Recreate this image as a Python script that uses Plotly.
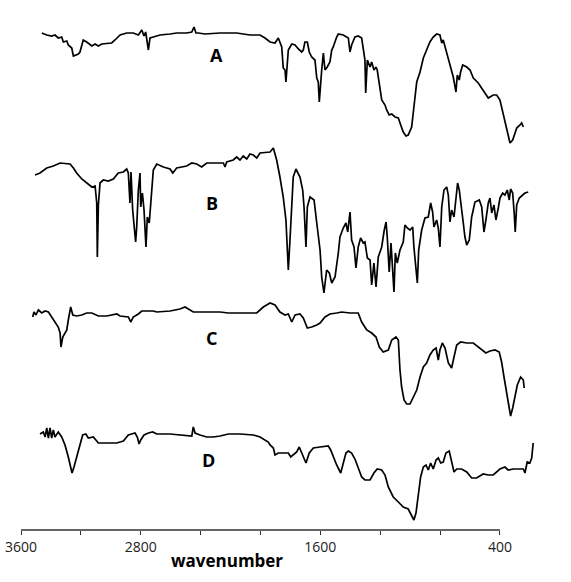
import plotly.graph_objects as go

# Wavenumbers (cm-1) and stacked relative transmittance (arbitrary units, offset per spectrum)
A_wn = [3461, 3428, 3395, 3373, 3351, 3328, 3317, 3294, 3284, 3261, 3250, 3217, 3206, 3184, 3161, 3127, 3105, 3083, 3061, 2994,
        2972, 2938, 2894, 2850, 2816, 2793, 2778, 2767, 2749, 2738, 2716, 2671, 2604, 2560, 2493, 2459, 2444, 2431, 2415, 2371,
        2270, 2159, 2115, 2070, 2003, 1970, 1936, 1903, 1881, 1858, 1848, 1836, 1830, 1814, 1791, 1769, 1747, 1725, 1714, 1703,
        1687, 1674, 1658, 1636, 1624, 1614, 1607, 1598, 1591, 1580, 1569, 1554, 1536, 1524, 1514, 1491, 1480, 1447, 1413, 1402,
        1391, 1369, 1347, 1324, 1313, 1302, 1297, 1286, 1268, 1257, 1242, 1228, 1220, 1206, 1190, 1168, 1157, 1140, 1123, 1101,
        1079, 1063, 1046, 1028, 1013, 990, 975, 956, 934, 912, 890, 868, 846, 823, 801, 789, 779, 756, 734, 712,
        694, 685, 672, 663, 649, 622, 600, 578, 545, 512, 478, 445, 422, 400, 378, 355, 333, 315, 288, 266, 255, 244]
A_y = [497, 495, 494, 495, 492, 493, 488, 489, 485, 482, 474, 476, 478, 490, 488, 484, 486, 484, 486, 487,
       490, 495, 497, 497, 495, 500, 494, 498, 480, 492, 493, 495, 496, 497, 497, 498, 503, 497, 497, 496,
       497, 497, 496, 495, 495, 492, 488, 487, 492, 483, 462, 460, 448, 480, 486, 485, 481, 478, 480, 488,
       488, 478, 473, 470, 452, 448, 428, 450, 460, 477, 460, 463, 468, 480, 483, 493, 496, 495, 492, 478,
       485, 493, 494, 492, 483, 470, 437, 470, 463, 468, 460, 463, 460, 447, 430, 425, 420, 415, 416, 413,
       412, 405, 398, 394, 395, 403, 423, 448, 458, 472, 480, 488, 493, 496, 495, 487, 490, 478, 467, 453,
       438, 455, 450, 458, 465, 463, 460, 452, 447, 440, 432, 435, 435, 430, 415, 402, 387, 390, 402, 405, 407, 403]

B_wn = [3506, 3473, 3428, 3384, 3339, 3272, 3250, 3228, 3194, 3161, 3127, 3105, 3094, 3090, 3083, 3072, 3050, 3017, 2983, 2950,
        2916, 2894, 2883, 2872, 2865, 2854, 2845, 2834, 2827, 2816, 2805, 2800, 2789, 2778, 2765, 2756, 2743, 2731, 2716, 2693,
        2649, 2604, 2586, 2560, 2493, 2459, 2426, 2393, 2359, 2315, 2248, 2237, 2226, 2182, 2159, 2137, 2115, 2092, 2070, 2048,
        2025, 2003, 1958, 1936, 1914, 1892, 1870, 1848, 1830, 1814, 1803, 1791, 1781, 1763, 1736, 1718, 1709, 1696, 1687, 1669,
        1642, 1624, 1602, 1591, 1576, 1558, 1540, 1524, 1502, 1480, 1469, 1447, 1429, 1417, 1402, 1391, 1375, 1362, 1347, 1331,
        1313, 1302, 1286, 1268, 1257, 1242, 1228, 1213, 1190, 1173, 1161, 1153, 1140, 1128, 1117, 1108, 1099, 1086, 1068, 1046,
        1035, 1019, 1001, 983, 975, 961, 952, 943, 923, 901, 879, 863, 850, 841, 823, 812, 801, 789, 774, 756,
        745, 734, 723, 707, 694, 683, 672, 656, 645, 634, 622, 605, 589, 567, 538, 522, 507, 494, 478, 467,
        455, 440, 427, 411, 400, 382, 367, 351, 338, 329, 315, 305, 298, 288, 271, 248, 233, 211]
B_y = [355, 357, 362, 364, 367, 366, 362, 357, 351, 347, 343, 344, 327, 273, 325, 347, 350, 349, 351, 357,
       358, 361, 357, 327, 358, 320, 307, 288, 303, 340, 357, 323, 337, 320, 283, 313, 307, 333, 360, 366,
       363, 361, 357, 362, 364, 367, 366, 363, 367, 367, 367, 363, 368, 370, 373, 370, 374, 371, 376, 375,
       372, 377, 378, 378, 382, 370, 353, 333, 310, 260, 290, 320, 353, 361, 353, 340, 323, 283, 323, 333,
       330, 307, 280, 253, 237, 260, 257, 247, 253, 277, 293, 302, 307, 298, 318, 290, 283, 262, 283, 292,
       287, 288, 272, 270, 245, 267, 243, 273, 283, 300, 308, 293, 258, 287, 263, 238, 277, 267, 280, 288,
       305, 302, 300, 303, 283, 263, 247, 280, 300, 312, 313, 327, 318, 303, 310, 302, 283, 323, 340, 343,
       335, 308, 320, 313, 333, 347, 340, 317, 307, 293, 285, 290, 313, 328, 330, 323, 298, 310, 327, 332,
       317, 325, 310, 322, 332, 337, 335, 340, 330, 341, 337, 317, 298, 325, 332, 335, 337, 338]

C_wn = [3522, 3513, 3500, 3484, 3461, 3439, 3417, 3395, 3373, 3351, 3339, 3333, 3321, 3294, 3284, 3268, 3254, 3228, 3194, 3161,
        3127, 3083, 3027, 2960, 2938, 2883, 2867, 2850, 2816, 2793, 2716, 2693, 2604, 2538, 2504, 2482, 2449, 2359, 2270, 2215,
        2092, 2025, 1981, 1936, 1903, 1870, 1836, 1814, 1791, 1769, 1736, 1714, 1687, 1658, 1624, 1602, 1569, 1536, 1491, 1457,
        1402, 1347, 1324, 1290, 1257, 1228, 1206, 1180, 1146, 1123, 1095, 1079, 1068, 1057, 1041, 1023, 1001, 979, 956, 934,
        912, 890, 868, 846, 827, 812, 801, 785, 767, 745, 723, 707, 689, 663, 622, 578, 545, 522, 494, 467,
        433, 405, 389, 373, 355, 338, 329, 315, 300, 284, 262, 244, 238]
C_y = [213, 218, 215, 220, 217, 219, 218, 213, 208, 203, 197, 183, 193, 200, 210, 223, 215, 214, 215, 217,
       217, 214, 214, 216, 214, 213, 208, 213, 216, 219, 219, 218, 219, 221, 223, 221, 218, 218, 218, 217,
       217, 217, 223, 227, 225, 218, 215, 216, 208, 215, 216, 212, 202, 203, 205, 207, 213, 216, 217, 218,
       217, 217, 208, 200, 197, 193, 183, 178, 180, 190, 193, 190, 160, 143, 130, 126, 126, 133, 140, 153,
       163, 167, 175, 180, 182, 170, 180, 187, 182, 167, 162, 173, 185, 188, 187, 187, 183, 181, 177, 179,
       180, 178, 168, 153, 135, 122, 114, 122, 133, 145, 153, 150, 142]

D_wn = [3473, 3451, 3439, 3428, 3417, 3406, 3395, 3384, 3373, 3351, 3328, 3306, 3284, 3268, 3259, 3246, 3228, 3206, 3188, 3167,
        3150, 3117, 3083, 3027, 2960, 2916, 2883, 2838, 2823, 2811, 2800, 2778, 2749, 2720, 2693, 2604, 2493, 2459, 2449, 2437,
        2404, 2359, 2315, 2270, 2215, 2137, 2048, 2003, 1948, 1936, 1914, 1903, 1881, 1848, 1814, 1798, 1781, 1758, 1741, 1725,
        1714, 1696, 1674, 1647, 1602, 1547, 1531, 1514, 1491, 1464, 1447, 1429, 1413, 1391, 1369, 1347, 1324, 1302, 1268, 1242,
        1220, 1190, 1168, 1146, 1113, 1079, 1046, 1013, 990, 975, 961, 946, 930, 912, 894, 879, 863, 846, 827, 812,
        796, 779, 761, 739, 723, 707, 689, 656, 622, 589, 556, 512, 478, 445, 400, 367, 345, 311, 278, 244,
        233, 218, 200, 188, 178]
D_y = [96, 98, 93, 102, 92, 102, 92, 100, 93, 98, 93, 85, 73, 63, 57, 63, 73, 83, 95, 96,
       92, 93, 87, 87, 87, 89, 95, 97, 93, 86, 90, 95, 97, 98, 96, 96, 95, 94, 103, 97,
       95, 93, 93, 94, 96, 96, 95, 93, 88, 85, 82, 75, 77, 77, 77, 73, 75, 78, 83, 77,
       73, 67, 77, 82, 83, 84, 80, 73, 65, 57, 67, 77, 79, 77, 71, 63, 53, 50, 50, 57,
       61, 60, 55, 43, 33, 28, 23, 21, 15, 10, 17, 37, 53, 63, 65, 60, 67, 61, 70, 72,
       67, 68, 77, 79, 67, 58, 61, 61, 58, 52, 52, 56, 55, 55, 61, 63, 60, 61, 61, 61,
       57, 68, 67, 72, 87]

labels = ["A", "B", "C", "D"]
label_wn = [2297, 2326, 2326, 2349]
label_y = [475, 327, 192, 70]

tick_vals = [3600, 3200, 2800, 2400, 2000, 1600, 1200, 800, 400]
tick_text = ["3600", "", "2800", "", "", "1600", "", "", "400"]

fig = go.Figure()
for wn, yv in [(A_wn, A_y), (B_wn, B_y), (C_wn, C_y), (D_wn, D_y)]:
    fig.add_trace(go.Scatter(x=wn, y=yv, mode="lines",
                             line=dict(color="black", width=1.7),
                             showlegend=False, hoverinfo="skip"))

for t, xw, yv in zip(labels, label_wn, label_y):
    fig.add_annotation(x=xw, y=yv, text=f"<b>{t}</b>", showarrow=False,
                       font=dict(family="Open Sans", size=18, color="black"))

fig.add_annotation(x=2224, y=-0.057, xref="x", yref="paper", text="<b>wavenumber</b>",
                   showarrow=False, yanchor="middle",
                   font=dict(family="Open Sans", size=17, color="black"))

# axis baseline from 3600 to 400
fig.add_shape(type="line", xref="x", yref="paper", x0=tick_vals[0], x1=tick_vals[-1], y0=0, y1=0,
              line=dict(color="#333333", width=1.5))

fig.update_layout(
    width=571, height=582,
    margin=dict(l=21, r=20, t=0, b=52),
    paper_bgcolor="white", plot_bgcolor="white",
    xaxis=dict(range=[3600, 59], tickvals=tick_vals, ticktext=tick_text,
               ticks="outside", ticklen=4, tickwidth=1.2, tickcolor="#333333",
               showline=False, showgrid=False, zeroline=False,
               tickfont=dict(family="Open Sans", size=14, color="#222222")),
    yaxis=dict(range=[0, 530], visible=False, showgrid=False, zeroline=False),
)

fig.write_html("out.html", config={"displayModeBar": False},
               post_script="document.body.style.margin='0';document.body.style.overflow='hidden';")
